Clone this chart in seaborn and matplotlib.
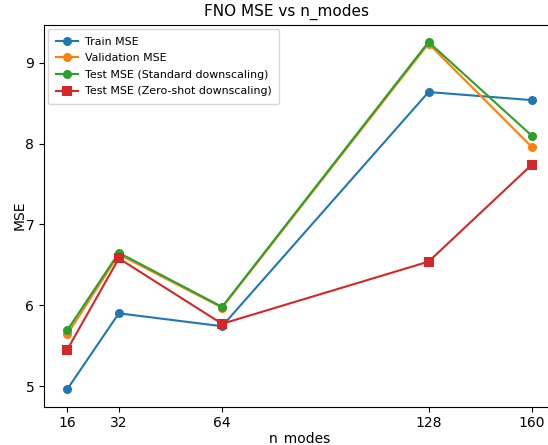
import numpy as np
import pandas as pd
import matplotlib
matplotlib.use('Agg')
import matplotlib.pyplot as plt
import seaborn as sns

# data
n_modes = [16, 32, 64, 128, 160]
train_mse = [4.96, 5.90, 5.74, 8.64, 8.54]
val_mse = [5.64, 6.63, 5.97, 9.24, 7.96]
test_std_mse = [5.69, 6.65, 5.98, 9.26, 8.10]
test_zs_mse = [5.45, 6.58, 5.77, 6.54, 7.74]

labels = ["Train MSE", "Validation MSE",
          "Test MSE (Standard downscaling)", "Test MSE (Zero-shot downscaling)"]
series = [train_mse, val_mse, test_std_mse, test_zs_mse]

df = pd.concat([
    pd.DataFrame({"n_modes": n_modes, "MSE": vals, "kind": lab})
    for lab, vals in zip(labels, series)
], ignore_index=True)

colors = ["#1f77b4", "#ff7f0e", "#2ca02c", "#d62728"]
markers = {labels[0]: "o", labels[1]: "o", labels[2]: "o", labels[3]: "s"}

fig = plt.figure(figsize=(5.48, 4.45), dpi=100)
ax = fig.add_axes([44 / 548, 0.0863, (555 - 44) / 548, 0.8584])

sns.lineplot(data=df, x="n_modes", y="MSE", hue="kind", style="kind",
             palette=colors, markers=markers, dashes=False,
             markersize=6.5, markeredgewidth=0, linewidth=1.5, ax=ax)

ax.set_xticks(n_modes)
ax.set_xlabel("n_modes", fontsize=10, labelpad=1)
ax.set_ylabel("MSE", fontsize=10, labelpad=-1)
ax.set_title("FNO MSE vs n_modes", fontsize=11, x=0.474)
ax.legend(loc="upper left", fontsize=7.9, labelspacing=0.6, borderpad=0.7,
          handletextpad=0.6, borderaxespad=0.4)

fig.savefig("out.png", dpi=100)
